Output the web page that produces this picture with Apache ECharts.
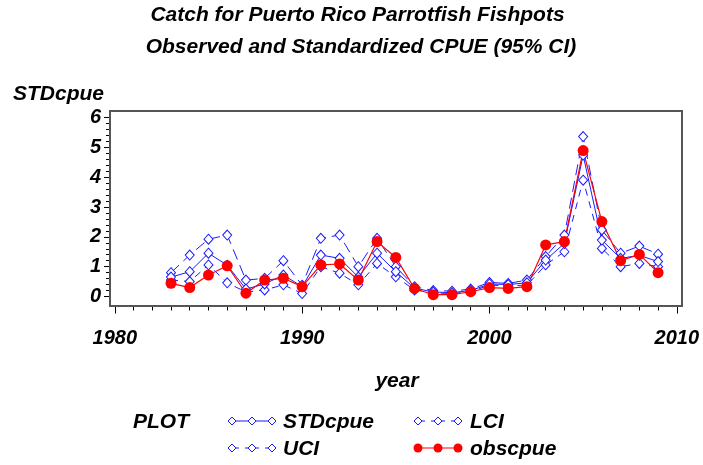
<!DOCTYPE html>
<html><head><meta charset="utf-8">
<script src="https://cdn.jsdelivr.net/npm/echarts@6/dist/echarts.min.js"></script>
<style>html,body{margin:0;padding:0;background:#fff}#c{width:703px;height:465px}</style>
</head><body><div id="c"></div>
<script>
const years = [1983,1984,1985,1986,1987,1988,1989,1990,1991,1992,1993,1994,1995,1996,1997,1998,1999,2000,2001,2002,2003,2004,2005,2006,2007,2008,2009];
const stdcpue = [0.65,0.83,1.45,1.05,0.25,0.42,0.72,0.33,1.39,1.28,0.65,1.45,0.83,0.28,0.15,0.13,0.20,0.42,0.40,0.46,1.22,1.78,4.74,1.89,1.28,1.38,1.17];
const uci = [0.80,1.39,1.92,2.06,0.55,0.61,1.20,0.38,1.95,2.06,1.00,1.95,1.00,0.33,0.20,0.18,0.25,0.47,0.44,0.55,1.34,2.06,5.36,2.23,1.45,1.69,1.42];
const lci = [0.55,0.50,1.06,0.46,0.15,0.22,0.39,0.10,1.00,0.78,0.39,1.11,0.66,0.22,0.12,0.10,0.16,0.38,0.36,0.38,1.06,1.50,3.90,1.61,1.00,1.11,1.00];
const obscpue = [0.44,0.30,0.72,1.03,0.11,0.55,0.61,0.33,1.06,1.09,0.55,1.84,1.31,0.27,0.06,0.06,0.16,0.30,0.27,0.33,1.73,1.84,4.89,2.51,1.20,1.41,0.80];
const xTicks = [1980,1990,2000,2010];
const yTicks = [0,1,2,3,4,5,6];
const titleLines = ['Catch for Puerto Rico Parrotfish Fishpots','Observed and Standardized CPUE (95% CI)'];

const FONT = 'Liberation Sans, Arial, sans-serif';
const BLUE = '#1a1aff', RED = '#ff0000';
const pairs = a => years.map((y,i)=>[y,a[i]]);

const chart = echarts.init(document.getElementById('c'));
const diamond = {symbol:'diamond', symbolSize:[9,10], itemStyle:{color:'#fff', borderColor:BLUE, borderWidth:1}};
function legendIcon(x,y,dash,sym,color){
  const els=[];
  const xs=[x,x+20,x+40];
  if(dash){
    for(let i=0;i<2;i++){
      els.push({type:'line',shape:{x1:xs[i]+4,y1:y,x2:xs[i]+7,y2:y},style:{stroke:color,lineWidth:1}});
      els.push({type:'line',shape:{x1:xs[i+1]-7,y1:y,x2:xs[i+1]-4,y2:y},style:{stroke:color,lineWidth:1}});
    }
  } else {
    els.push({type:'line',shape:{x1:x,y1:y,x2:x+40,y2:y},style:{stroke:color,lineWidth:1}});
  }
  xs.forEach(cx=>{
    if(sym==='d') els.push({type:'polygon',shape:{points:[[cx,y-4],[cx+4,y],[cx,y+4],[cx-4,y]]},style:{fill:'#fff',stroke:color,lineWidth:1}});
    else els.push({type:'circle',shape:{cx:cx,cy:y,r:4.5},style:{fill:color}});
  });
  return els;
}
const txt = (x,y,t,size,align)=>({type:'text',x:x,y:y,style:{text:t,font:'italic bold '+size+'px '+FONT,fill:'#000',textAlign:align||'left',textVerticalAlign:'middle'}});

chart.setOption({
  animation:false,
  grid:{left:114.8,right:26.2,top:117.5,bottom:168.5},
  xAxis:{type:'value',min:1980,max:2010,interval:10,offset:10,
    axisLine:{show:false,onZero:false},
    axisTick:{show:true,length:7,lineStyle:{color:'#000'}},
    minorTick:{show:true,splitNumber:10,length:4,lineStyle:{color:'#000'}},
    splitLine:{show:false},
    axisLabel:{margin:22,fontFamily:FONT,fontStyle:'italic',fontWeight:'bold',fontSize:20,color:'#000',formatter:v=>xTicks.includes(v)?String(v):''}},
  yAxis:{type:'value',min:0,max:6,interval:1,offset:4.8,
    axisLine:{show:false,onZero:false},
    axisTick:{show:true,length:6,lineStyle:{color:'#000'}},
    minorTick:{show:true,splitNumber:5,length:4,lineStyle:{color:'#000'}},
    splitLine:{show:false},
    axisLabel:{margin:9,fontFamily:FONT,fontStyle:'italic',fontWeight:'bold',fontSize:20,color:'#000',formatter:v=>yTicks.includes(v)?String(v):''}},
  series:[
    Object.assign({name:'UCI',type:'line',data:pairs(uci),lineStyle:{color:BLUE,width:1,type:[11,6]}},diamond),
    Object.assign({name:'LCI',type:'line',data:pairs(lci),lineStyle:{color:BLUE,width:1,type:[7,6]}},diamond),
    Object.assign({name:'STDcpue',type:'line',data:pairs(stdcpue),lineStyle:{color:BLUE,width:1}},diamond),
    {name:'obscpue',type:'line',data:pairs(obscpue),symbol:'circle',symbolSize:11,lineStyle:{color:RED,width:1.2},itemStyle:{color:RED}}
  ],
  graphic:[
    {type:'rect',shape:{x:110,y:111,width:572,height:195},style:{fill:'none',stroke:'#555',lineWidth:2},z:10},
    txt(357.5,15,titleLines[0],21,'center'),
    txt(361,47,titleLines[1],21,'center'),
    txt(13,94,'STDcpue',21),
    txt(397,381,'year',21,'center'),
    txt(133,422,'PLOT',21),
    ...legendIcon(232,421,false,'d',BLUE),
    txt(283,422,'STDcpue',21),
    ...legendIcon(418,421,true,'d',BLUE),
    txt(470,422,'LCI',21),
    ...legendIcon(232,448,true,'d',BLUE),
    txt(283,449,'UCI',21),
    ...legendIcon(418,448,false,'c',RED),
    txt(470,449,'obscpue',21)
  ]
});
</script></body></html>
